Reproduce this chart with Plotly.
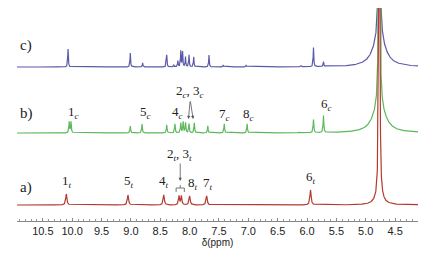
import numpy as np
import plotly.graph_objects as go

# ---- data (ppm positions, peak heights in px-like units) ----
ppm_a = [10.10, 9.05, 8.44, 8.18, 8.14, 8.00, 7.71, 5.94, 4.77, 4.77]
h_a   = [11, 10, 10, 9, 9, 9, 9, 15, 900, 7]
w_a   = [0.012, 0.012, 0.012, 0.010, 0.010, 0.012, 0.012, 0.012, 0.006, 0.08]

ppm_b = [10.05, 10.02, 9.01, 8.81, 8.39, 8.25, 8.15, 8.11, 8.07, 8.01, 7.92, 7.69, 7.41, 7.02, 6.12, 5.89, 5.72, 4.77, 4.77]
h_b   = [11, 11, 7, 9, 8, 9, 10, 11, 10, 9, 10, 7, 9, 9, 1, 13, 17, 900, 28]
w_b   = [0.007] * 17 + [0.006, 0.12]

ppm_c = [10.07, 9.01, 8.80, 8.39, 8.27, 8.20, 8.15, 8.12, 8.07, 8.01, 7.93, 7.67, 7.43, 7.04, 6.10, 5.89, 5.72, 4.77, 4.77]
h_c   = [18, 14, 4, 12, 2, 6, 16, 15, 10, 12, 10, 12, 2, 2, 1, 19, 5, 900, 30]
w_c   = [0.006] * 17 + [0.006, 0.12]

offsets = {"a": 16, "b": 88, "c": 154}
colors = {"a": "#b23a2e", "b": "#5cb85a", "c": "#5b5aa8"}

labels_b = [("1<sub><i>c</i></sub>", 9.97, 109), ("5<sub><i>c</i></sub>", 8.75, 109),
            ("4<sub><i>c</i></sub>", 8.21, 109), ("2<sub><i>c</i></sub>, 3<sub><i>c</i></sub>", 7.99, 130),
            ("7<sub><i>c</i></sub>", 7.40, 107), ("8<sub><i>c</i></sub>", 7.00, 107),
            ("6<sub><i>c</i></sub>", 5.67, 117)]
labels_a = [("1<sub><i>t</i></sub>", 10.09, 40), ("5<sub><i>t</i></sub>", 9.04, 40),
            ("4<sub><i>t</i></sub>", 8.44, 40), ("2<sub><i>t</i></sub>, 3<sub><i>t</i></sub>", 8.17, 67),
            ("8<sub><i>t</i></sub>", 7.94, 38), ("7<sub><i>t</i></sub>", 7.68, 38),
            ("6<sub><i>t</i></sub>", 5.94, 44)]
panel_labels = [("c)", 176), ("b)", 108), ("a)", 34)]

tick_vals = [10.5, 10.0, 9.5, 9.0, 8.5, 8.0, 7.5, 7.0, 6.5, 6.0, 5.5, 5.0, 4.5]


def spectrum(centers, heights, widths, base):
    x = np.union1d(np.arange(4.0, 11.0, 0.002), np.array(centers))
    y = np.full_like(x, float(base))
    for c, h, w in zip(centers, heights, widths):
        y += h * w * w / (w * w + (x - c) ** 2)
    return x, y


fig = go.Figure()
for key, (p, h, w) in [("c", (ppm_c, h_c, w_c)), ("b", (ppm_b, h_b, w_b)), ("a", (ppm_a, h_a, w_a))]:
    x, y = spectrum(p, h, w, offsets[key])
    fig.add_trace(go.Scatter(x=x, y=y, mode="lines", line=dict(color=colors[key], width=1.2),
                             hoverinfo="skip", showlegend=False))

lab_font = dict(family="Liberation Serif", size=13, color="#222")
for t, x, y in labels_b + labels_a:
    fig.add_annotation(x=x, y=y, text=t, showarrow=False, font=lab_font, xanchor="center", yanchor="middle")

for t, y in panel_labels:
    fig.add_annotation(x=10.93, y=y, text=t, showarrow=False, xanchor="left", yanchor="middle",
                       font=dict(family="Liberation Serif", size=15, color="#222"))

# arrows for 2c,3c
for hx in [8.02, 7.94]:
    fig.add_annotation(x=hx, y=102, ax=7.99, ay=121, axref="x", ayref="y", xref="x", yref="y",
                       text="", showarrow=True, arrowhead=2, arrowsize=0.8, arrowwidth=0.8,
                       arrowcolor="#555")
# arrow for 2t,3t
fig.add_annotation(x=8.16, y=40, ax=8.16, ay=59, axref="x", ayref="y", text="", showarrow=True,
                   arrowhead=2, arrowsize=0.8, arrowwidth=0.8, arrowcolor="#555")
# bracket
fig.add_shape(type="path", path="M 8.23 29 L 8.23 33 L 8.09 33 L 8.09 29 M 8.16 33 L 8.16 36",
              line=dict(color="#555", width=0.8), xref="x", yref="y")

fig.update_layout(
    width=439, height=254, margin=dict(l=17, r=21, t=8, b=33),
    plot_bgcolor="white", paper_bgcolor="white",
    xaxis=dict(range=[10.94, 4.11], tickvals=tick_vals, ticktext=[f"{v:.1f}" for v in tick_vals],
               showgrid=False, zeroline=False, showline=True, linecolor="#888", linewidth=1,
               ticks="inside", ticklen=3, tickcolor="#888",
               minor=dict(dtick=0.1, ticks="inside", ticklen=2, tickcolor="#999"),
               tickfont=dict(family="Liberation Sans", size=11, color="#222"),
               title=dict(text="δ(ppm)", font=dict(family="Liberation Sans", size=10, color="#222"), standoff=0)),
    yaxis=dict(range=[0, 213], visible=False, showgrid=False, zeroline=False),
)
fig.write_html("out.html", config={"displayModeBar": False},
               post_script="document.body.style.margin='0';")
